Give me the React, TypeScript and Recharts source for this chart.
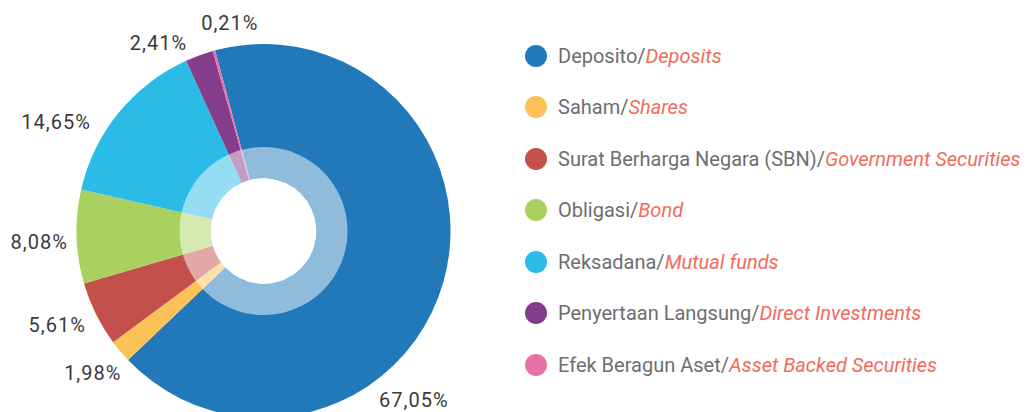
import { PieChart, Pie, Cell } from "recharts";

const categories = [
  "Deposito",
  "Saham",
  "Surat Berharga Negara (SBN)",
  "Obligasi",
  "Reksadana",
  "Penyertaan Langsung",
  "Efek Beragun Aset",
];
const categoriesEn = [
  "Deposits",
  "Shares",
  "Government Securities",
  "Bond",
  "Mutual funds",
  "Direct Investments",
  "Asset Backed Securities",
];
const shares = [67.05, 1.98, 5.61, 8.08, 14.65, 2.41, 0.21];

const COLORS = ["#2179b9", "#fcc157", "#c4504c", "#a9d160", "#2bbbe7", "#843d8b", "#e673a6"];
const FONT = "Roboto, 'DejaVu Sans', sans-serif";
const RAD = Math.PI / 180;

// label placement tweaks (angle nudge in deg, gap beyond the outer edge in px)
const LABEL_NUDGE = [-40, 5, 1.5, 1.5, 7, 2, -14];
const LABEL_GAP = [18, 14, 14, 9, 17, 16, 21];

const data = categories.map((name, i) => ({ name, en: categoriesEn[i], value: shares[i] }));
const ring = [{ name: "ring", value: 1 }];

const fmt = (v: number) => `${v.toFixed(2).replace(".", ",")}%`;

function renderLabel(props: any) {
  const { cx, cy, midAngle, outerRadius, index, value } = props;
  const a = (midAngle + (LABEL_NUDGE[index] ?? 0)) * RAD;
  const r = outerRadius + (LABEL_GAP[index] ?? 15);
  const x = cx + r * Math.cos(-a);
  const y = cy + r * Math.sin(-a);
  return (
    <text
      x={x}
      y={y}
      fill="#3a3a3a"
      fontSize={20}
      fontFamily={FONT}
      letterSpacing={1}
      textAnchor={Math.cos(a) >= 0 ? "start" : "end"}
      dominantBaseline="central"
    >
      {fmt(value)}
    </text>
  );
}

function LegendList() {
  return (
    <div style={{ position: "absolute", left: 525, top: 30, fontFamily: FONT, fontSize: 20 }}>
      {data.map((d, i) => (
        <div key={d.name} style={{ display: "flex", alignItems: "center", height: 51.5 }}>
          <span
            style={{
              width: 22,
              height: 22,
              borderRadius: "50%",
              background: COLORS[i],
              display: "inline-block",
              marginRight: 11,
              flexShrink: 0,
            }}
          />
          <span style={{ color: "#6d6e71", whiteSpace: "nowrap" }}>
            {d.name}/<i style={{ color: "#f26b5e" }}>{d.en}</i>
          </span>
        </div>
      ))}
    </div>
  );
}

export default function App() {
  return (
    <div style={{ position: "relative", width: 1030, height: 412, background: "#fff", overflow: "hidden" }}>
      <style>{`body{margin:0}`}</style>
      <PieChart width={1030} height={412} margin={{ top: 0, right: 0, bottom: 0, left: 0 }}>
        <Pie
          data={data}
          dataKey="value"
          cx={263.5}
          cy={231}
          innerRadius={53}
          outerRadius={187}
          startAngle={105}
          endAngle={-255}
          stroke="none"
          label={renderLabel}
          labelLine={false}
          isAnimationActive={false}
        >
          {data.map((d, i) => (
            <Cell key={d.name} fill={COLORS[i]} />
          ))}
        </Pie>
        <Pie
          data={ring}
          dataKey="value"
          cx={263.5}
          cy={231}
          innerRadius={53}
          outerRadius={84}
          fill="#ffffff"
          fillOpacity={0.5}
          stroke="none"
          isAnimationActive={false}
        />
      </PieChart>
      <LegendList />
    </div>
  );
}
